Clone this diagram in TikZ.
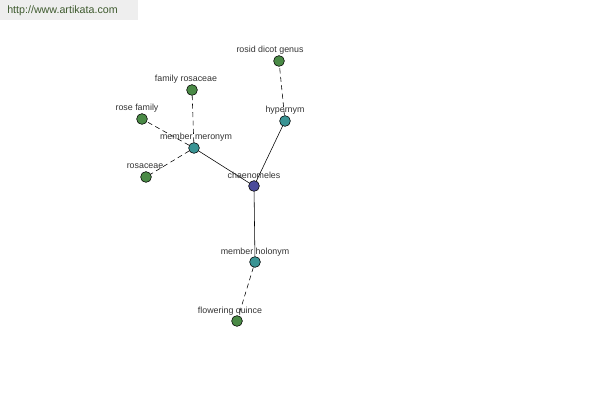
\documentclass[tikz,border=0pt]{standalone}
\usepackage{fontspec}
\setmainfont{Liberation Sans}
\definecolor{rootc}{HTML}{4A4A9A}
\definecolor{relc}{HTML}{3A9494}
\definecolor{leafc}{HTML}{4A8A46}
\definecolor{boxc}{HTML}{EEEEEE}
\definecolor{urlc}{HTML}{3E5A2E}
\tikzset{
	word/.style={circle, draw=black, line width=0.4pt, inner sep=0pt, minimum size=0.27cm},
	lbl/.style={font=\fontsize{6.3}{7}\selectfont, text=black!80, inner sep=0pt, anchor=base},
	weak/.style={dash pattern={on 3.5pt off 2.5pt}}
}

\begin{document}
\begin{tikzpicture}[x=0.025cm, y=-0.025cm]
			\useasboundingbox (0, 0) rectangle (600, 400);
			\fill[boxc] (0, 0) rectangle (138, 20);
			\node[anchor=west, text=urlc, font=\fontsize{7.6}{9}\selectfont, inner sep=0pt] (url) at (7, 11){http://www.artikata.com};
			\node[word, fill=rootc] (chaen) at (254, 186){};
			\node[word, fill=relc] (meron) at (194, 148){};
			\node[word, fill=relc] (hyper) at (285, 121){};
			\node[word, fill=relc] (holon) at (255, 262){};
			\node[word, fill=leafc] (rosid) at (279, 61){};
			\node[word, fill=leafc] (famros) at (192, 90){};
			\node[word, fill=leafc] (rosefam) at (142, 119){};
			\node[word, fill=leafc] (rosac) at (146, 177){};
			\node[word, fill=leafc] (quince) at (237, 321){};
			\draw (chaen) -- (meron);
			\draw (chaen) -- (hyper);
			\draw (chaen) -- (holon);
			\draw[weak] (meron) -- (famros);
			\draw[weak] (meron) -- (rosefam);
			\draw[weak] (meron) -- (rosac);
			\draw[weak] (hyper) -- (rosid);
			\draw[weak] (holon) -- (quince);
			\node[lbl] (tchaen) at (254, 179){chaenomeles};
			\node[lbl] (tmeron) at (196, 140){member meronym};
			\node[lbl] (thyper) at (285, 113){hypernym};
			\node[lbl] (tholon) at (255, 255){member holonym};
			\node[lbl] (trosid) at (270, 53){rosid dicot genus};
			\node[lbl] (tfamros) at (186, 82){family rosaceae};
			\node[lbl] (trosefam) at (137, 111){rose family};
			\node[lbl] (trosac) at (145, 169){rosaceae};
			\node[lbl] (tquince) at (230, 314){flowering quince};
		\end{tikzpicture}
\end{document}
